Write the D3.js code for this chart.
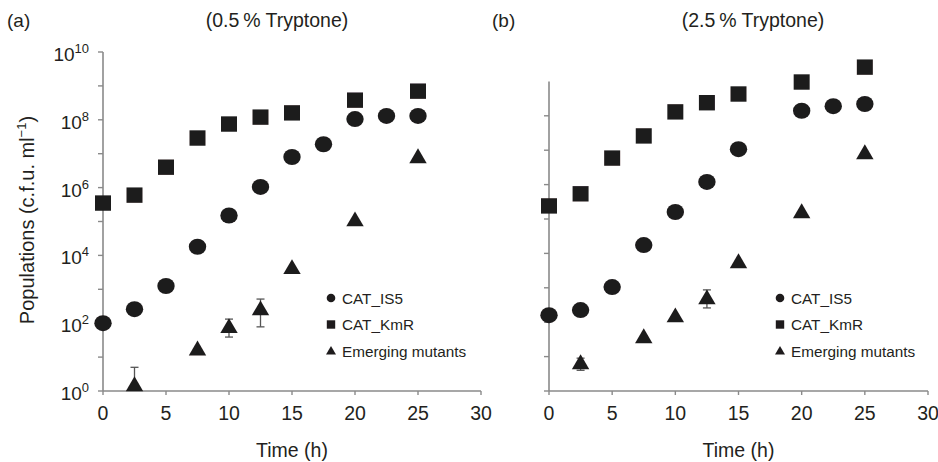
<!DOCTYPE html>
<html>
<head>
<meta charset="utf-8">
<script src="https://cdn.jsdelivr.net/npm/d3@7"></script>
<style>
  body { margin: 0; background: #fff; }
  text { font-family: "Liberation Sans", Arial, sans-serif; fill: #231f20; }
</style>
</head>
<body>
<svg width="938" height="462"></svg>
<script>
// time points (h)
const times = [0, 2.5, 5, 7.5, 10, 12.5, 15, 17.5, 20, 22.5, 25];
const xTicks = [0, 5, 10, 15, 20, 25, 30];

// panel (a) 0.5% tryptone
const a_is5 = [100, 260, 1250, 1.8e4, 1.5e5, 1.05e6, 8e6, 1.9e7, 1.05e8, 1.3e8, 1.3e8];
const a_kmr = [3.5e5, 6e5, 4e6, 2.9e7, 7.5e7, 1.2e8, 1.6e8, null, 3.8e8, null, 7e8];
const a_mut = [null, 1.5, null, 17, 78, 260, 4300, null, 1.1e5, null, 8e6];
const a_mutLo = [null, 1.5, null, null, 39, 78, null, null, null, null, null];
const a_mutHi = [null, 5, null, null, 132, 515, null, null, null, null, null];

// panel (b) 2.5% tryptone
const b_is5 = [160, 225, 1050, 1.75e4, 1.6e5, 1.2e6, 1.07e7, null, 1.4e8, 1.9e8, 2.2e8];
const b_kmr = [2.4e5, 5.4e5, 5.9e6, 2.6e7, 1.3e8, 2.4e8, 4.3e8, null, 9.6e8, null, 2.6e9];
const b_mut = [null, 6.5, null, 37, 150, 500, 5600, null, 1.6e5, null, 8.3e6];
const b_mutLo = [null, 4, null, null, null, 260, null, null, null, null, null];
const b_mutHi = [null, 9, null, null, null, 870, null, null, null, null, null];

const legendNames = ["CAT_IS5", "CAT_KmR", "Emerging mutants"];

const svg = d3.select("svg");
const ink = "#1e1b1c";
const axisGray = "#8a8a8a";

svg.append("defs").append("filter").attr("id", "soft")
  .append("feGaussianBlur").attr("stdDeviation", 0.5);

function drawPanel(opt) {
  const x = d3.scaleLinear().domain([0, 30]).range([opt.left, opt.right]);
  const y = d3.scaleLog().domain([1, 1e10]).range([391, opt.top10]);
  const g = svg.append("g");

  // y axis
  g.append("line")
    .attr("x1", x(0)).attr("x2", x(0))
    .attr("y1", y(1)).attr("y2", y(opt.yMax))
    .attr("stroke", axisGray).attr("stroke-width", 1.6);
  const decades = d3.range(0, opt.tickMaxExp + 1);
  g.selectAll(".ytick").data(decades).enter().append("line")
    .attr("x1", x(0) - 5).attr("x2", x(0))
    .attr("y1", d => y(Math.pow(10, d))).attr("y2", d => y(Math.pow(10, d)))
    .attr("stroke", axisGray).attr("stroke-width", 1.4);
  if (opt.labels) {
    const lab = g.selectAll(".ylab").data(opt.labels).enter().append("text")
      .attr("x", x(0) - 14).attr("y", d => y(Math.pow(10, d)) + 9)
      .attr("text-anchor", "end").attr("font-size", 19);
    lab.append("tspan").text("10");
    lab.append("tspan").attr("dy", -8).attr("font-size", 13).text(d => d);
  }

  // x axis
  g.append("line")
    .attr("x1", x(0)).attr("x2", x(30))
    .attr("y1", y(1)).attr("y2", y(1))
    .attr("stroke", axisGray).attr("stroke-width", 1.6);
  g.selectAll(".xtick").data(xTicks).enter().append("line")
    .attr("x1", d => x(d)).attr("x2", d => x(d))
    .attr("y1", y(1)).attr("y2", y(1) + 4)
    .attr("stroke", axisGray).attr("stroke-width", 1.4);
  g.selectAll(".xlab").data(xTicks).enter().append("text")
    .attr("x", d => x(d)).attr("y", 420)
    .attr("text-anchor", "middle").attr("font-size", 19.5)
    .text(d => d);
  g.append("text")
    .attr("x", x(15)).attr("y", 457)
    .attr("text-anchor", "middle").attr("font-size", 19.5)
    .text("Time (h)");

  // panel titles
  g.append("text").attr("x", opt.tagX).attr("y", 27)
    .attr("font-size", 19).text(opt.tag);
  g.append("text").attr("x", opt.titleX).attr("y", 27)
    .attr("text-anchor", "middle").attr("font-size", 19.5).text(opt.title);

  const marks = g.append("g").attr("filter", "url(#soft)");

  // error bars
  const errs = times.map((t, i) => ({ t, lo: opt.mutLo[i], hi: opt.mutHi[i] }))
    .filter(d => d.lo != null);
  errs.forEach(d => {
    const xe = x(d.t);
    marks.append("line").attr("x1", xe).attr("x2", xe)
      .attr("y1", y(d.lo)).attr("y2", y(d.hi))
      .attr("stroke", "#555").attr("stroke-width", 1.3);
    [d.lo, d.hi].forEach(v => {
      marks.append("line").attr("x1", xe - 4).attr("x2", xe + 4)
        .attr("y1", y(v)).attr("y2", y(v))
        .attr("stroke", "#555").attr("stroke-width", 1.3);
    });
  });

  const series = [
    { vals: opt.is5, sym: "circle" },
    { vals: opt.kmr, sym: "square" },
    { vals: opt.mut, sym: "triangle" }
  ];
  series.forEach(s => {
    const pts = times.map((t, i) => ({ t, v: s.vals[i] })).filter(d => d.v != null);
    marks.selectAll(null).data(pts).enter().append(s.sym === "circle" ? "ellipse" : "path")
      .each(function(d) {
        const el = d3.select(this);
        const cx = x(d.t), cy = y(d.v);
        if (s.sym === "circle") {
          el.attr("cx", cx).attr("cy", cy).attr("rx", 8.7).attr("ry", 8);
        } else if (s.sym === "square") {
          el.attr("d", `M${cx - 8},${cy - 7.7}h16v15.4h-16z`);
        } else {
          el.attr("d", `M${cx},${cy - 8.7}L${cx + 8.7},${cy + 6.2}L${cx - 8.7},${cy + 6.2}Z`);
        }
      })
      .attr("fill", ink);
  });

  // legend
  const lg = g.append("g");
  legendNames.forEach((name, i) => {
    const ly = opt.legY + i * 26.5;
    const lx = opt.legX;
    if (i === 0) lg.append("circle").attr("cx", lx).attr("cy", ly).attr("r", 4.3).attr("fill", ink);
    if (i === 1) lg.append("rect").attr("x", lx - 4.2).attr("y", ly - 4.2).attr("width", 8.4).attr("height", 8.4).attr("fill", ink);
    if (i === 2) lg.append("path").attr("d", `M${lx},${ly - 5}L${lx + 5},${ly + 3.6}L${lx - 5},${ly + 3.6}Z`).attr("fill", ink);
    lg.append("text").attr("x", lx + 11).attr("y", ly + 5.5)
      .attr("font-size", 15.3).text(name);
  });
}

drawPanel({
  left: 103, right: 481, top10: 52, yMax: 1e10, tickMaxExp: 10,
  labels: [0, 2, 4, 6, 8, 10],
  is5: a_is5, kmr: a_kmr, mut: a_mut, mutLo: a_mutLo, mutHi: a_mutHi,
  tag: "(a)", tagX: 7, title: "(0.5\u2009% Tryptone)", titleX: 277,
  legX: 331, legY: 298
});
drawPanel({
  left: 549, right: 928, top10: 47, yMax: 1e9, tickMaxExp: 8,
  labels: null,
  is5: b_is5, kmr: b_kmr, mut: b_mut, mutLo: b_mutLo, mutHi: b_mutHi,
  tag: "(b)", tagX: 492, title: "(2.5\u2009% Tryptone)", titleX: 753,
  legX: 780, legY: 298
});

// y axis title
const yt = svg.append("text")
  .attr("transform", "translate(34,220) rotate(-90)")
  .attr("text-anchor", "middle").attr("font-size", 20);
yt.append("tspan").text("Populations (c.f.u. ml");
yt.append("tspan").attr("dy", -8).attr("font-size", 13).text("\u22121");
yt.append("tspan").attr("dy", 8).text(")");
</script>
</body>
</html>
